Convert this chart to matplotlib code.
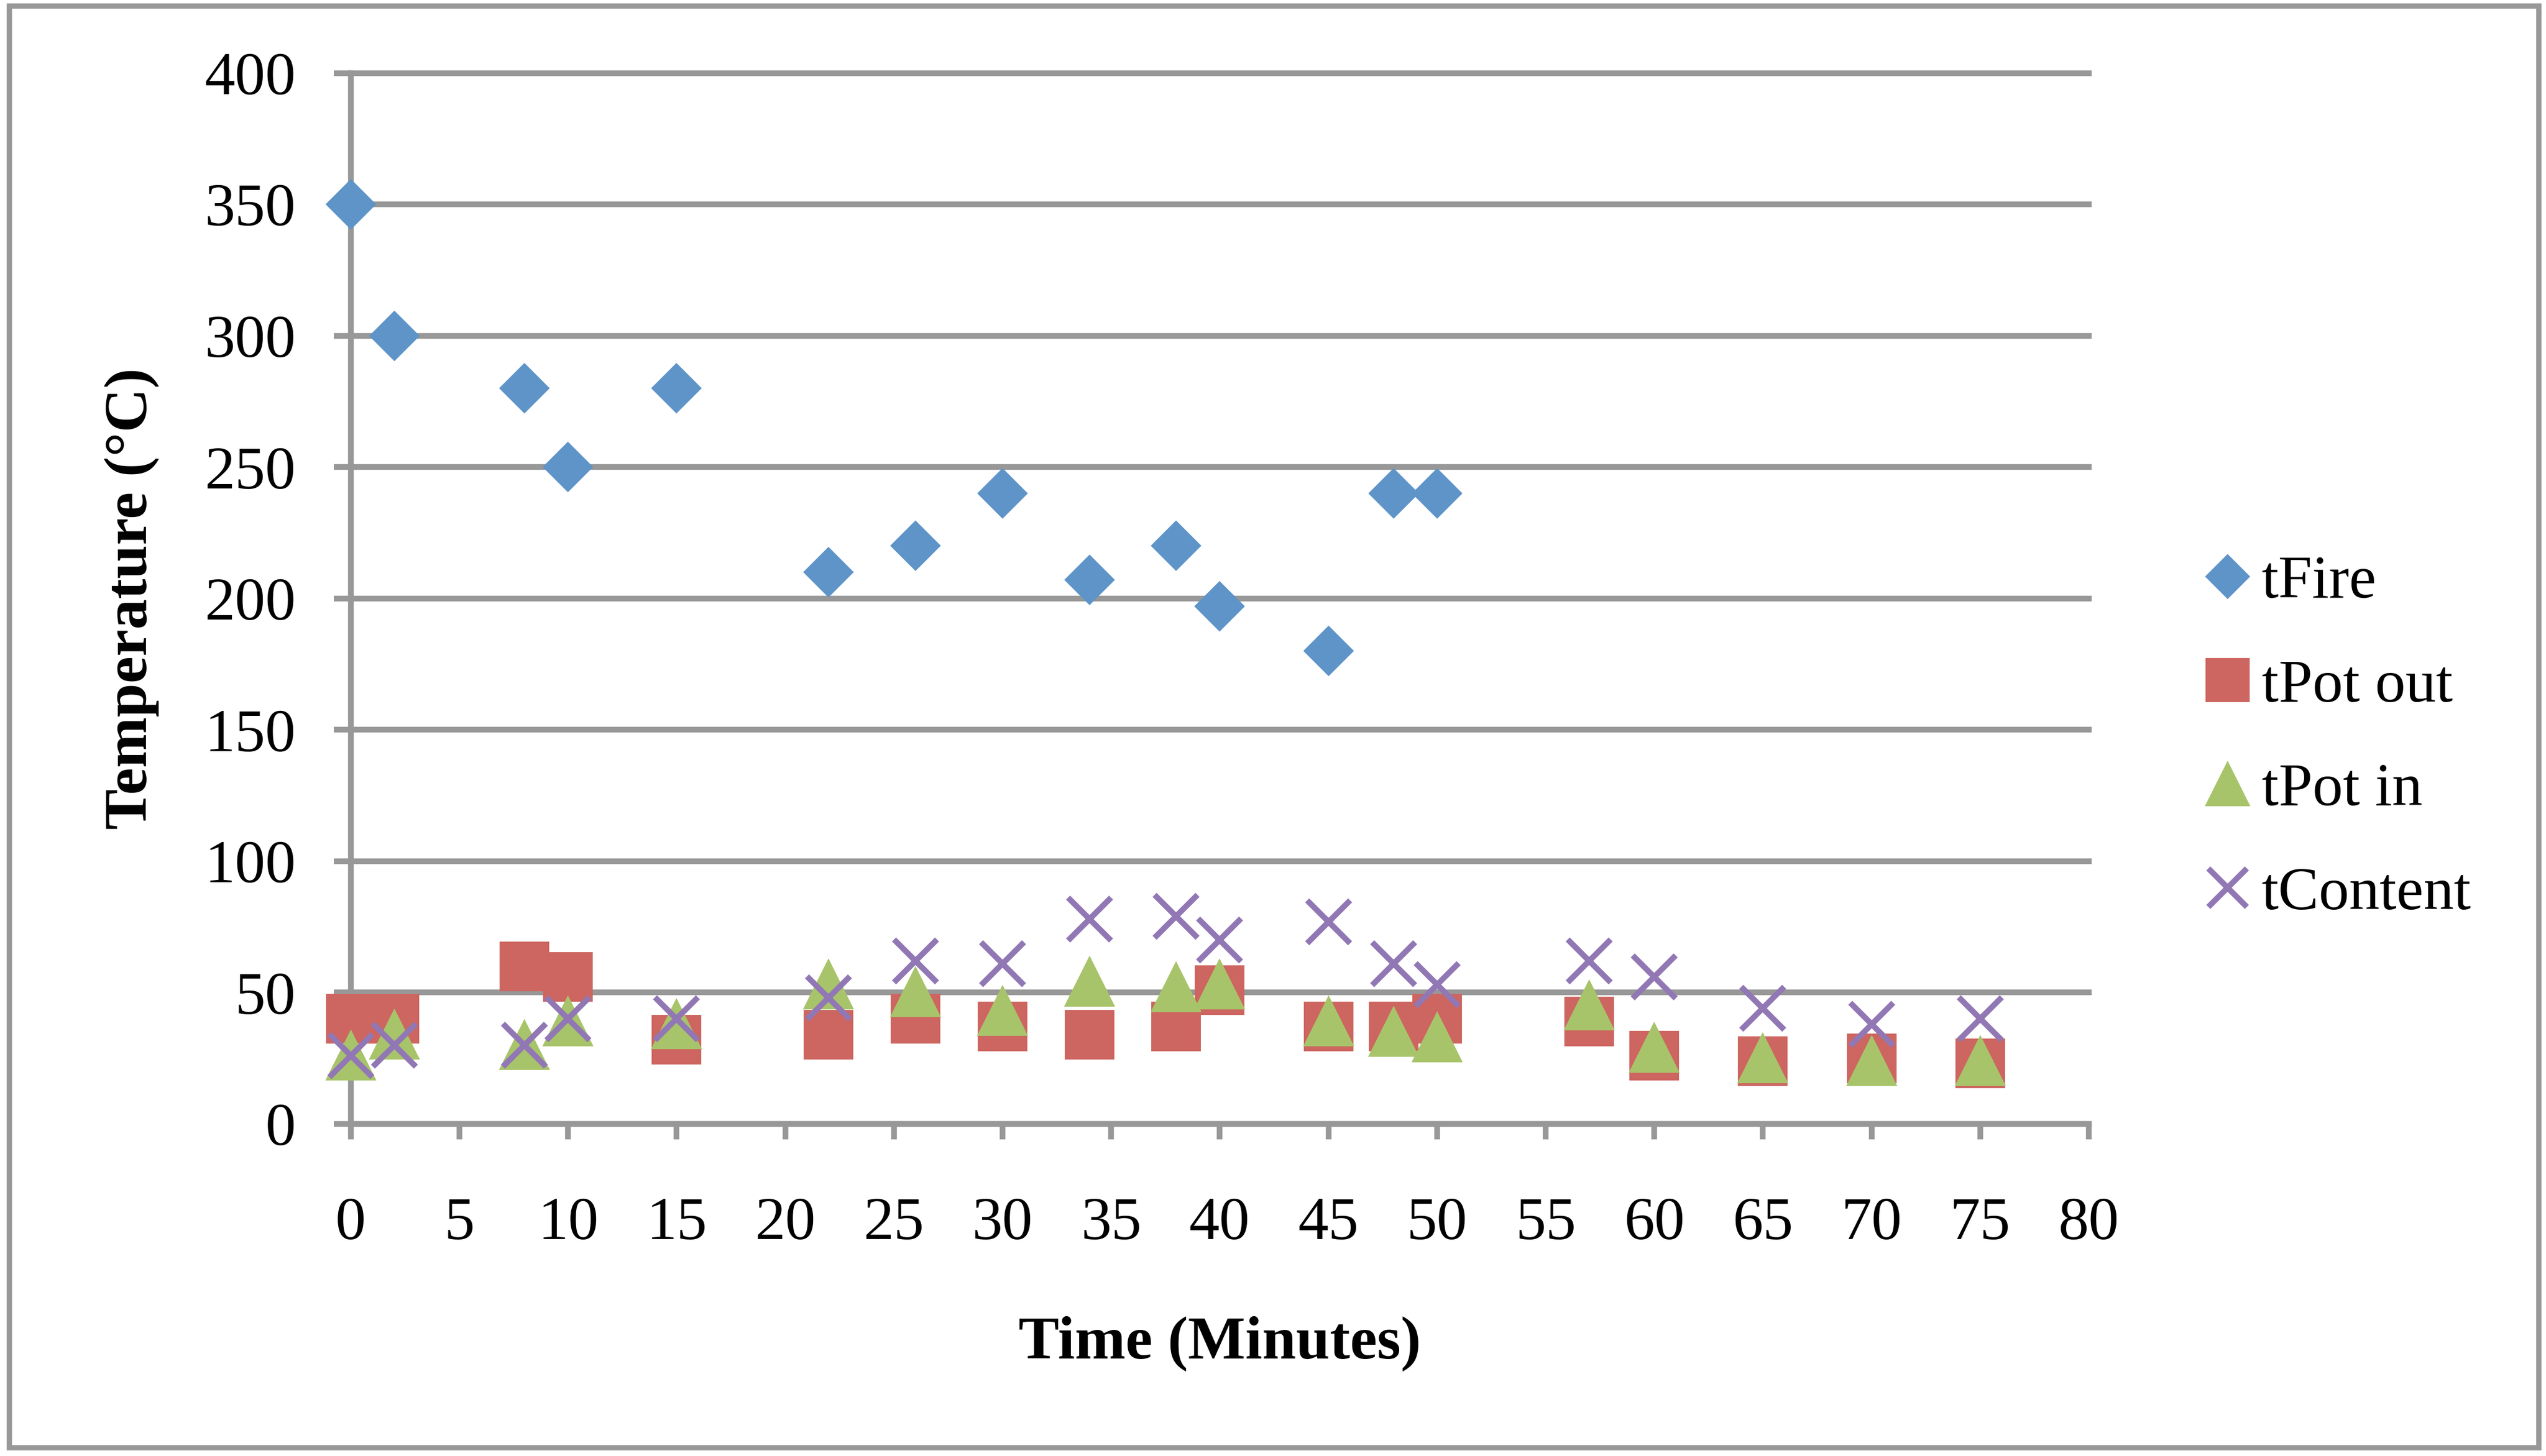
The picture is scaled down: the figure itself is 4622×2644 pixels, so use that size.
import matplotlib
matplotlib.use("Agg")
import matplotlib.pyplot as plt
from matplotlib.patches import Rectangle

# ---- data ----
time_fire = [0, 2, 8, 10, 15, 22, 26, 30, 34, 38, 40, 45, 48, 50]
t_fire = [350, 300, 280, 250, 280, 210, 220, 240, 207, 220, 197, 180, 240, 240]

time_all = [0, 2, 8, 10, 15, 22, 26, 30, 34, 38, 40, 45, 48, 50, 57, 60, 65, 70, 75]
t_pot_out = [40, 40, 60, 56, 32, 34, 40, 37, 34, 37, 51, 37, 37, 40, 39, 26, 24, 25, 23]
t_pot_in = [26, 34, 30, 39, 38, 53, 50, 43, 54, 52, 53, 39, 35, 33, 45, 29, 25, 24, 24]
t_content = [26, 30, 30, 40, 40, 48, 62, 61, 78, 79, 70, 77, 61, 53, 62, 56, 44, 38, 40]

x_ticks = list(range(0, 81, 5))
y_ticks = list(range(0, 401, 50))

# ---- style ----
FONT = "Liberation Serif"
FS = 26.5
GRID = "#989898"
LW = 2.5
C_FIRE = "#5E94C8"
C_OUT = "#CD6560"
C_IN = "#A8C46A"
C_CONT = "#9178B4"

plt.rcParams["font.family"] = [FONT, "DejaVu Serif"]

W, H = 4622, 2644
DPI = 300
fig = plt.figure(figsize=(W / DPI, H / DPI), dpi=DPI)

left, right = 636.7 / W, 3792 / W
top, bottom = 1 - 132.7 / H, 1 - 2041 / H
ax = fig.add_axes([left, bottom, right - left, top - bottom])

ax.plot(time_fire, t_fire, linestyle="none", marker="D", ms=14.5, mew=1,
        color=C_FIRE, mec=C_FIRE, label="tFire", clip_on=False, zorder=3)
ax.plot(time_all, t_pot_out, linestyle="none", marker="s", ms=20.5, mew=1,
        color=C_OUT, mec=C_OUT, label="tPot out", clip_on=False, zorder=3)
ax.plot(time_all, t_pot_in, linestyle="none", marker="^", ms=20.5, mew=1,
        color=C_IN, mec=C_IN, label="tPot in", clip_on=False, zorder=3)
ax.plot(time_all, t_content, linestyle="none", marker="x", ms=18.5, mew=2.5,
        color=C_CONT, mec=C_CONT, label="tContent", clip_on=False, zorder=3)

ax.set_xlim(0, 80)
ax.set_ylim(0, 400)
ax.set_xticks(x_ticks)
ax.set_yticks(y_ticks)

ax.set_axisbelow(True)
ax.yaxis.grid(True, color=GRID, linewidth=LW)
ax.xaxis.grid(False)
for gl in ax.get_ygridlines():
    gl.set_clip_on(False)

for s in ("top", "right"):
    ax.spines[s].set_visible(False)
for s in ("left", "bottom"):
    ax.spines[s].set_color(GRID)
    ax.spines[s].set_linewidth(LW)

ax.tick_params(axis="both", which="major", color=GRID, width=LW,
               labelsize=FS, direction="out")
ax.tick_params(axis="y", length=7.4, pad=16.5)
ax.tick_params(axis="x", length=6.7, pad=25)
for lab in ax.get_xticklabels() + ax.get_yticklabels():
    lab.set_fontfamily(FONT)

# axis titles
fig.text((left + right) / 2, 1 - 2467 / H, "Time (Minutes)", ha="center",
         va="baseline", fontsize=FS, fontweight="bold", family=FONT)
fig.text(267 / W, (top + bottom) / 2, "Temperature (°C)", rotation=90,
         rotation_mode="anchor", ha="center", va="baseline", fontsize=FS,
         fontweight="bold", family=FONT)

# legend
leg = ax.legend(loc="center left", bbox_to_anchor=(3956 / W, 1 - 1341 / H),
                bbox_transform=fig.transFigure, frameon=False,
                prop={"family": FONT, "size": FS}, handlelength=0.8,
                handletextpad=0.16, labelspacing=0.80, borderaxespad=0,
                borderpad=0.4, markerscale=0.9, numpoints=1)

# outer chart border
fig.patches.append(Rectangle((16.5 / W, 1 - 2629 / H),
                             (4609 - 16.5) / W, (2629 - 11) / H,
                             transform=fig.transFigure, fill=False,
                             edgecolor=GRID, linewidth=2.3))

fig.savefig("out.png", dpi=DPI)
